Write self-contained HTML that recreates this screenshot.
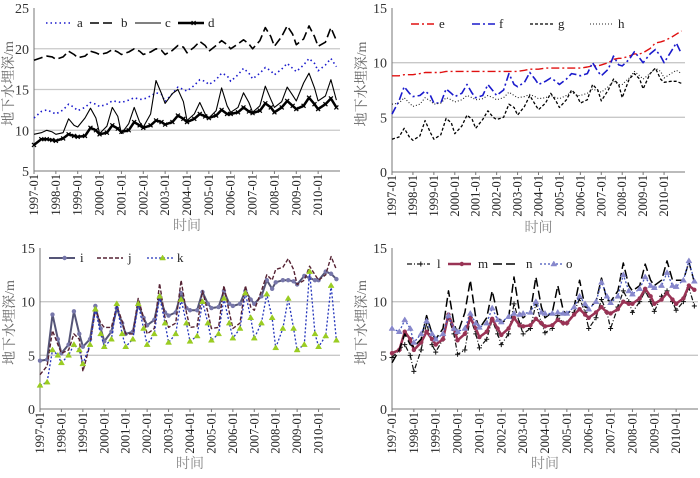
<!DOCTYPE html>
<html><head><meta charset="utf-8"><style>
html,body{margin:0;padding:0;background:#fff;}
svg{display:block;font-family:"Liberation Serif","Noto Serif CJK SC",serif;}
</style></head><body>
<svg id="chart" width="700" height="478" viewBox="0 0 700 478" xmlns="http://www.w3.org/2000/svg"></svg>
<script>
// sample months within each year (Jan, May, Aug, Nov)
const sampleMonths = [0,4,7,10];
const years = [1997,1998,1999,2000,2001,2002,2003,2004,2005,2006,2007,2008,2009,2010];
const yearLabels = ["1997-01","1998-01","1999-01","2000-01","2001-01","2002-01","2003-01","2004-01","2005-01","2006-01","2007-01","2008-01","2009-01","2010-01"];
const ticksTop = [5,10,15,20,25];
const ticks15 = [0,5,10,15];

const seriesA = [11.5,12.3,12.5,12.2, 12,12.5,13.2,12.8, 12.4,12.8,13.4,13.2, 12.9,13.2,13.6,13.5, 13.4,13.7,14,13.8, 13.8,14.2,14.6,14.4, 13.5,14.5,15.3,15.0, 14.8,15.5,16.2,16.0, 15.6,16.2,17.0,16.7, 16,16.8,17.6,17.0, 16.3,17,17.7,17.3, 16.8,17.5,18.2,17.6, 17.2,18,18.8,18.2, 17.3,18,18.8,17.8];
const seriesB = [18.6,18.9,19.1,19, 18.7,19,19.7,19.3, 18.9,19.1,19.7,19.5, 19.3,19.5,19.9,19.6, 19.3,19.6,20,19.7, 19.3,19.6,20,19.8, 19.3,19.8,20.4,20.2, 19.5,20.2,20.9,20.4, 19.7,20.4,21,20.5, 20,20.6,21.1,20.6, 20,21,22.6,21.5, 20.3,21.5,22.8,21.8, 20.5,21.2,22.8,21.5, 20.3,20.8,22.6,21];
const seriesC = [9.5,9.7,10,9.8, 9.5,9.7,11.4,10.6, 10.4,11.5,12.7,11.5, 9.6,10.5,12.8,11.7, 9.6,10.8,12.8,11, 10.4,12,16.1,14.5, 13.3,14.5,15,13.5, 11.2,12,13.4,12, 11.5,12.4,15.2,13, 12.2,12.8,14.6,13.4, 12.2,13,15.4,13.8, 12.8,13.5,15.3,14.3, 13.6,15.8,17,15.2, 13.6,14.2,16.2,13.7];
const seriesD = [8.2,8.9,8.9,8.8, 8.7,9,9.5,9.3, 9.2,9.3,10.3,10.0, 9.5,9.7,10.6,10.2, 9.8,10,11,10.6, 10.3,10.6,11.2,11, 10.7,11,11.8,11.4, 11,11.4,12,11.7, 11.5,11.8,12.5,12, 12,12.2,12.8,12.3, 12.1,12.4,13.3,12.8, 12.2,12.8,13.6,13, 12.6,13,14,13.2, 12.6,13.2,13.9,12.8];

const seriesE = [8.8,8.8,8.9,8.9, 8.9,9,9.1,9.1, 9.1,9.1,9.2,9.2, 9.2,9.2,9.2,9.2, 9.2,9.2,9.2,9.2, 9.2,9.2,9.2,9.2, 9.2,9.3,9.4,9.4, 9.4,9.5,9.5,9.5, 9.5,9.5,9.5,9.5, 9.5,9.6,9.7,9.7, 9.8,10,10.3,10.4, 10.4,10.6,10.8,10.8, 10.9,11.3,11.8,11.9, 12,12.3,12.6,12.9];
const seriesF = [5.3,6.5,7.8,7.2, 6.9,7.0,7.4,7.0, 6.3,6.3,7.6,7.2, 6.9,7.2,8,7.2, 6.8,7,8,7.4, 7,7.5,9,8, 7.8,8.2,9.1,8.5, 8,8.3,8.6,8.3, 8,8.5,9,8.9, 8.8,9,10,9.2, 8.8,9.4,10.6,9.8, 9.7,10.3,11,10.4, 10,10.8,11.2,10.6, 10,11,11.8,10.8];
const seriesG = [3,3.2,4,3.2, 2.9,3.3,4.7,3.6, 3,3.4,4.9,4.5, 3.5,4.2,5.2,4.8, 4.0,4.8,5.6,5.0, 4.8,5,6.2,5.9, 5.2,6,7,6.2, 5.7,6.3,7.2,6.5, 5.9,6.6,7.5,7, 6.3,6.6,8,7.5, 6.5,7.5,8.5,8, 6.8,8.5,9,8.5, 7.6,9,9.5,8.5, 8.2,8.3,8.3,8.1];
const seriesH = [6.2,6.3,6.8,6.3, 6,6.2,6.8,6.5, 6.2,6.3,6.8,6.6, 6.4,6.6,7,6.8, 6.6,6.7,7,6.8, 6.6,6.8,7.3,7, 6.8,6.9,7.1,6.9, 6.7,6.8,7,6.8, 6.7,7.0,7.3,7.0, 7,7.2,7.6,7.4, 7.3,7.8,8.3,8, 8,8.6,9.2,8.8, 8.5,9,9.5,9.2, 8.6,9,9.3,9];

const seriesI = [4.5,4.6,8.8,6.5, 5.2,6,9.1,7, 5.8,6.5,9.6,7.5, 6.3,7.2,9.4,8, 7,7.2,9.8,8.5, 7.8,8.3,10.5,9, 8.7,9,10.8,9.4, 9.2,9.2,10.9,9.8, 9.4,9.5,11,9.8, 9.6,9.8,11,10.2, 9.8,10.5,12,11.2, 11.8,12,12,11.9, 11.6,12.4,12.2,12, 12,12.8,12.6,12.1];
const seriesJ = [3.2,4,7.3,6, 5.2,5.5,7,6.5, 3.5,6,9.3,8, 7.6,7.6,9.6,8.2, 7,7,10.3,8.5, 7,7.5,11.7,8.5, 7.6,8,12,9, 7.6,7.7,11,9, 7.5,7.6,11.5,9, 7.5,8,11.5,9.5, 9.2,11,12.5,12, 13,13.2,14,13, 11.6,12,13.3,12.5, 12,12.5,14.2,13];
const seriesK = [2.2,2.5,5.5,5, 4.3,5,6,5.5, 4.2,6,9.3,7, 5.8,6.5,9.8,7, 5.8,6.5,9.8,7.5, 6,7,10.5,8, 6.2,7,10.2,8, 6.3,6.8,10,8, 6.4,7,10.3,8, 6.6,7.5,10.8,8.5, 6.6,8,10.7,8.5, 5.7,7.5,10.3,7.5, 5.5,6,12.8,7, 5.8,6.8,11.5,6.4];

const seriesL = [4.8,5.5,6,5, 3.5,5.5,8,6, 5.3,6.5,8.5,7, 5.1,5.5,8.5,7, 5.7,6.5,8.3,7, 6,7,9.8,8, 7,7.5,9.8,8, 7.1,7.5,8.7,8, 8,9,10.3,9, 7.5,8.5,10.2,9, 7.5,9.5,11,10, 9,10,11,10, 9.1,10.5,11,10, 9.2,10,11.3,9.6];
const seriesM = [5.2,5.5,7.2,6.5, 5.5,6.2,7.2,6.5, 6,6.5,8.8,7.5, 6.4,7,8.5,7.5, 6.7,7.2,8.4,7.5, 6.9,7.5,8.5,7.8, 7.7,7.8,8.4,8, 7.7,7.8,8.3,8, 8,8.8,9.3,8.8, 8.5,9,9.5,9, 8.9,9.3,10,9.8, 9.8,10.3,11.2,10.5, 9.8,10.2,10.8,10.2, 9.8,10.3,11.5,11.1];
const seriesN = [4.3,5.5,7,6, 5.8,6.5,8.7,7, 6.5,7.5,11,8, 7,9,12,8.5, 7.5,8.5,11,8.8, 8,8.5,12.3,9, 8.5,9,12.3,9.5, 8.5,9,11.5,9.2, 8.8,9.5,12,9.5, 9.4,10,12.2,10.2, 10,11,13.6,11.5, 11,11.5,13.5,12, 11.5,12,13.8,12, 12,12,13.7,11.8];
const seriesO = [7.5,7.2,8.3,7.5, 6.2,7,8.2,7, 6.5,7,8.7,7.5, 7.2,7.5,8.9,8, 7.6,8,9.4,8.3, 8.1,8.6,8.9,8.8, 8.9,9,10,9, 8.9,8.9,9,8.9, 8.9,9.5,10.5,9.8, 9.3,10,11.8,10.5, 9.9,10.5,12.5,11, 10.7,11.2,12.3,11.5, 11.3,11.5,12.7,11.5, 11.4,12,13.8,11.9];

const NS='http://www.w3.org/2000/svg';
const svg=document.getElementById('chart');
function mk(tag,attrs,parent){const e=document.createElementNS(NS,tag);for(const k in attrs)e.setAttribute(k,attrs[k]);(parent||svg).appendChild(e);return e;}

const panels=[
 {name:'top-left',x0:34,x1:340,yTop:8,yBot:171,min:5,max:25,ticks:ticksTop,grid:[10,15,20],titleY:230,yTitleX:13,
  series:[
   {id:'a',data:seriesA,color:'#1a1acc',dash:'1.5,3',w:1.6},
   {id:'b',data:seriesB,color:'#000',dash:'9,4',w:1.6},
   {id:'c',data:seriesC,color:'#000',dash:'',w:1.1},
   {id:'d',data:seriesD,color:'#000',dash:'',w:2.5,marker:'star'}],
  legend:{y:23,xs:[46,90,135,178],tx:[77,121,165,208],len:26}},
 {name:'top-right',x0:392,x1:685,yTop:8,yBot:172,min:0,max:15,ticks:ticks15,grid:[5,10],titleY:232,yTitleX:366,
  series:[
   {id:'e',data:seriesE,color:'#e01010',dash:'8,3,2,3',w:1.4},
   {id:'f',data:seriesF,color:'#1a1acc',dash:'8,3,2,3',w:1.6},
   {id:'g',data:seriesG,color:'#000',dash:'3,2',w:1.3},
   {id:'h',data:seriesH,color:'#222',dash:'1,2',w:1.1}],
  legend:{y:24,xs:[411,472,530,590],tx:[439,499,558,618],len:23}},
 {name:'bottom-left',x0:40,x1:340,yTop:248,yBot:409,min:0,max:15,ticks:ticks15,grid:[5,10],titleY:468,yTitleX:14,
  series:[
   {id:'i',data:seriesI,color:'#555577',dash:'',w:2,marker:'dot',mcolor:'#7777aa'},
   {id:'j',data:seriesJ,color:'#552233',dash:'4,2',w:1.4},
   {id:'k',data:seriesK,color:'#2233bb',dash:'2,2',w:1.3,marker:'tri',mcolor:'#9acc22'}],
  legend:{y:258,xs:[49,97,147],tx:[80,128,177],len:26}},
 {name:'bottom-right',x0:392,x1:698,yTop:248,yBot:409,min:0,max:15,ticks:ticks15,grid:[5,10],titleY:468,yTitleX:366,
  series:[
   {id:'l',data:seriesL,color:'#111',dash:'5,2,1,2',w:1.2,marker:'plus'},
   {id:'m',data:seriesM,color:'#993355',dash:'',w:2.5,marker:'dot',mcolor:'#993355'},
   {id:'n',data:seriesN,color:'#000',dash:'9,4',w:1.5},
   {id:'o',data:seriesO,color:'#4455bb',dash:'2,2',w:1.3,marker:'tri',mcolor:'#8888cc'}],
  legend:{y:264,xs:[407,448,493,540],tx:[437,478,526,566],len:23}}
];

function marker(g,type,x,y,color){
  let e;
  if(type==='dot'){e=mk('circle',{cx:x,cy:y,r:2.2,fill:color},g);}
  else if(type==='tri'){e=mk('path',{d:`M${x},${y-3}L${x+3},${y+2}L${x-3},${y+2}Z`,fill:color,stroke:color,'stroke-width':0.5},g);}
  else if(type==='plus'){e=mk('path',{d:`M${x-2.5},${y}H${x+2.5}M${x},${y-2.5}V${y+2.5}`,stroke:color,'stroke-width':1},g);}
  else {e=mk('path',{d:`M${x-2},${y-2}L${x+2},${y+2}M${x+2},${y-2}L${x-2},${y+2}`,stroke:color,'stroke-width':1.2},g);}
  
  
}

panels.forEach(p=>{
  const g=mk('g',{});
  
  
  const months=years.length*12;
  const xs=m=>p.x0+(p.x1-p.x0)*m/months;
  const ys=v=>p.yBot-(p.yBot-p.yTop)*(v-p.min)/(p.max-p.min);
  p.grid.forEach(v=>{const l=mk('line',{x1:p.x0,x2:p.x1,y1:ys(v),y2:ys(v),stroke:'#c8c8c8','stroke-width':1.3},g);
    });
  const ax=mk('path',{d:`M${p.x0},${p.yTop}V${p.yBot}H${p.x1}`,stroke:'#777',fill:'none','stroke-width':1},g);
  
  p.ticks.forEach(v=>{const t=mk('text',{x:p.x0-5,y:ys(v)+5,'text-anchor':'end','font-size':14,fill:'#333'},g);t.textContent=v;
    });
  years.forEach((yr,i)=>{const x=xs(i*12);
    mk('line',{x1:x,x2:x,y1:p.yBot,y2:p.yBot+3,stroke:'#777'},g);
    const t=mk('text',{transform:`translate(${x+4},${p.yBot+3}) rotate(-90)`,'text-anchor':'end','font-size':12.5,fill:'#222'},g);
    t.textContent=yearLabels[i];
    });
  const xt=mk('text',{x:(p.x0+p.x1)/2,y:p.titleY,'text-anchor':'middle','font-size':14,fill:'#888'},g);xt.textContent='时间';
  
  const yc=(p.yTop+p.yBot)/2-6;
  const yt=mk('text',{transform:`translate(${p.yTitleX},${yc}) rotate(-90)`,'text-anchor':'middle','font-size':14,fill:'#666'},g);yt.textContent='地下水埋深/m';
  
  p.series.forEach((s,si)=>{
    let d='';
    s.data.forEach((v,i)=>{const m=Math.floor(i/4)*12+sampleMonths[i%4];d+=(i?'L':'M')+xs(m).toFixed(1)+','+ys(v).toFixed(1);});
    const path=mk('path',{d,fill:'none',stroke:s.color,'stroke-width':s.w,'stroke-dasharray':s.dash,'stroke-linejoin':'round'},g);
    
    
    if(s.marker){s.data.forEach((v,i)=>{const m=Math.floor(i/4)*12+sampleMonths[i%4];marker(g,s.marker,xs(m),ys(v),s.mcolor||s.color);});}
    const lx=p.legend.xs[si],ly=p.legend.y;
    const lg=mk('g',{},g);
    
    
    mk('line',{x1:lx,x2:lx+p.legend.len,y1:ly,y2:ly,stroke:s.color,'stroke-width':s.w,'stroke-dasharray':s.dash},lg);
    if(s.marker)marker(lg,s.marker,lx+p.legend.len*0.6,ly,s.mcolor||s.color);
    const lt=mk('text',{x:p.legend.tx[si],y:ly+4,'font-size':13,fill:'#222'},lg);lt.textContent=s.id;
  });
});
</script>
</body></html>
